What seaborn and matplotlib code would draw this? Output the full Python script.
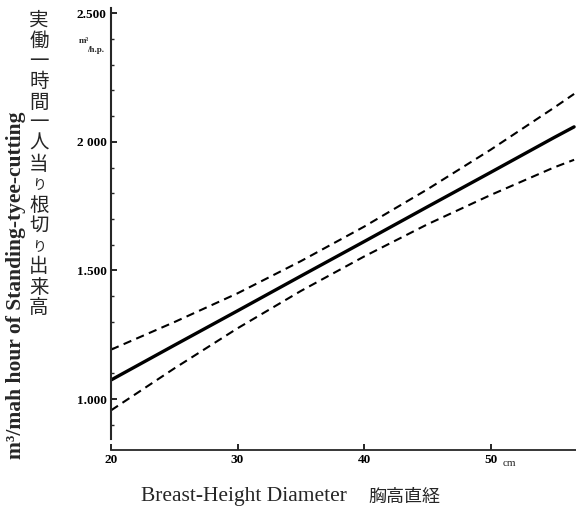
import matplotlib
matplotlib.use("Agg")
import matplotlib.pyplot as plt
import seaborn as sns
import pandas as pd
from matplotlib.ticker import MultipleLocator, FixedLocator, FixedFormatter

# ---- data ----
diameter = [20, 25, 30, 35, 40, 45, 50, 55, 56.6]
mean_line = [1.074, 1.209, 1.343, 1.478, 1.612, 1.747, 1.881, 2.016, 2.058]
upper_band = [1.192, 1.299, 1.411, 1.536, 1.670, 1.815, 1.969, 2.132, 2.186]
lower_band = [0.956, 1.119, 1.275, 1.420, 1.554, 1.679, 1.793, 1.900, 1.930]

x_ticks = [20, 30, 40, 50]
x_tick_labels = ["20", "30", "40", "50"]
y_ticks = [1.0, 1.5, 2.0, 2.5]
y_tick_labels = ["1.000", "1.500", "2 000", "2.500"]

ylabel_en = "m³/mah hour of Standing-tyee-cutting"
ylabel_ja = "実働一時間一人当り根切り出来高"
xlabel_en = "Breast-Height Diameter"
xlabel_ja = "胸高直経"
unit_y_top = "m³"
unit_y_bottom = "/h.p."
unit_x = "cm"

sns.set_style("ticks")
plt.rcParams["font.family"] = ["Liberation Serif", "Noto Sans CJK JP", "DejaVu Sans"]

df = pd.DataFrame({"d": diameter, "mean": mean_line, "upper": upper_band, "lower": lower_band})

fig = plt.figure(figsize=(5.76, 5.24), dpi=100)
ax = fig.add_axes([111 / 576, 74 / 524, 1 - 111 / 576, (450 - 8) / 524])

sns.lineplot(data=df, x="d", y="mean", ax=ax, color="black", linewidth=2.4)
sns.lineplot(data=df, x="d", y="upper", ax=ax, color="black", linewidth=1.5, dashes=False)
sns.lineplot(data=df, x="d", y="lower", ax=ax, color="black", linewidth=1.5, dashes=False)
for ln in ax.lines[1:3]:
    ln.set_dashes((4, 2.6))

ax.set_xlim(20, 56.75)
ax.set_ylim(0.802, 2.52)
sns.despine(ax=ax)
ax.spines["left"].set_bounds(0.845, 2.52)
ax.spines["left"].set_linewidth(1.5)
ax.spines["bottom"].set_linewidth(1.3)

ax.xaxis.set_major_locator(FixedLocator(x_ticks))
ax.xaxis.set_major_formatter(FixedFormatter(x_tick_labels))
ax.yaxis.set_major_locator(FixedLocator(y_ticks))
ax.yaxis.set_major_formatter(FixedFormatter(y_tick_labels))
ax.yaxis.set_minor_locator(MultipleLocator(0.1))
ax.tick_params(axis="both", which="major", direction="in", length=4, width=1.2,
               labelsize=9.5, pad=3, colors="black")
ax.tick_params(axis="y", which="minor", direction="in", length=2, width=1)
for lab in ax.get_xticklabels() + ax.get_yticklabels():
    lab.set_fontweight("bold")
ax.set_xlabel("")
ax.set_ylabel("")

# unit labels
fig.text(84 / 576, 1 - 41 / 524, unit_y_top, fontsize=6.5, fontweight="bold",
         ha="center", va="center")
fig.text(96 / 576, 1 - 50 / 524, unit_y_bottom, fontsize=6.5, fontweight="bold",
         ha="center", va="center")
fig.text(503 / 576, 1 - 463 / 524, unit_x, fontsize=8, ha="left", va="center")

# y-axis labels
fig.text(16 / 576, 1 - 285 / 524, ylabel_en, rotation=90, fontsize=15.5,
         fontweight="bold", ha="center", va="center")
step = (318 - 10) / len(ylabel_ja)
for i, ch in enumerate(ylabel_ja):
    ypix = 10 + step * (i + 0.5)
    size = 10 if ch == "り" else 14
    fig.text(39 / 576, 1 - ypix / 524, ch, fontsize=size, family="Noto Sans CJK JP",
             ha="center", va="center")

# x-axis label
fig.text(244 / 576, 1 - 497 / 524, xlabel_en, fontsize=15.5, ha="center", va="center")
fig.text(404 / 576, 1 - 497 / 524, xlabel_ja, fontsize=13, family="Noto Sans CJK JP",
         ha="center", va="center")

fig.savefig("out.png", dpi=100, facecolor="white")
